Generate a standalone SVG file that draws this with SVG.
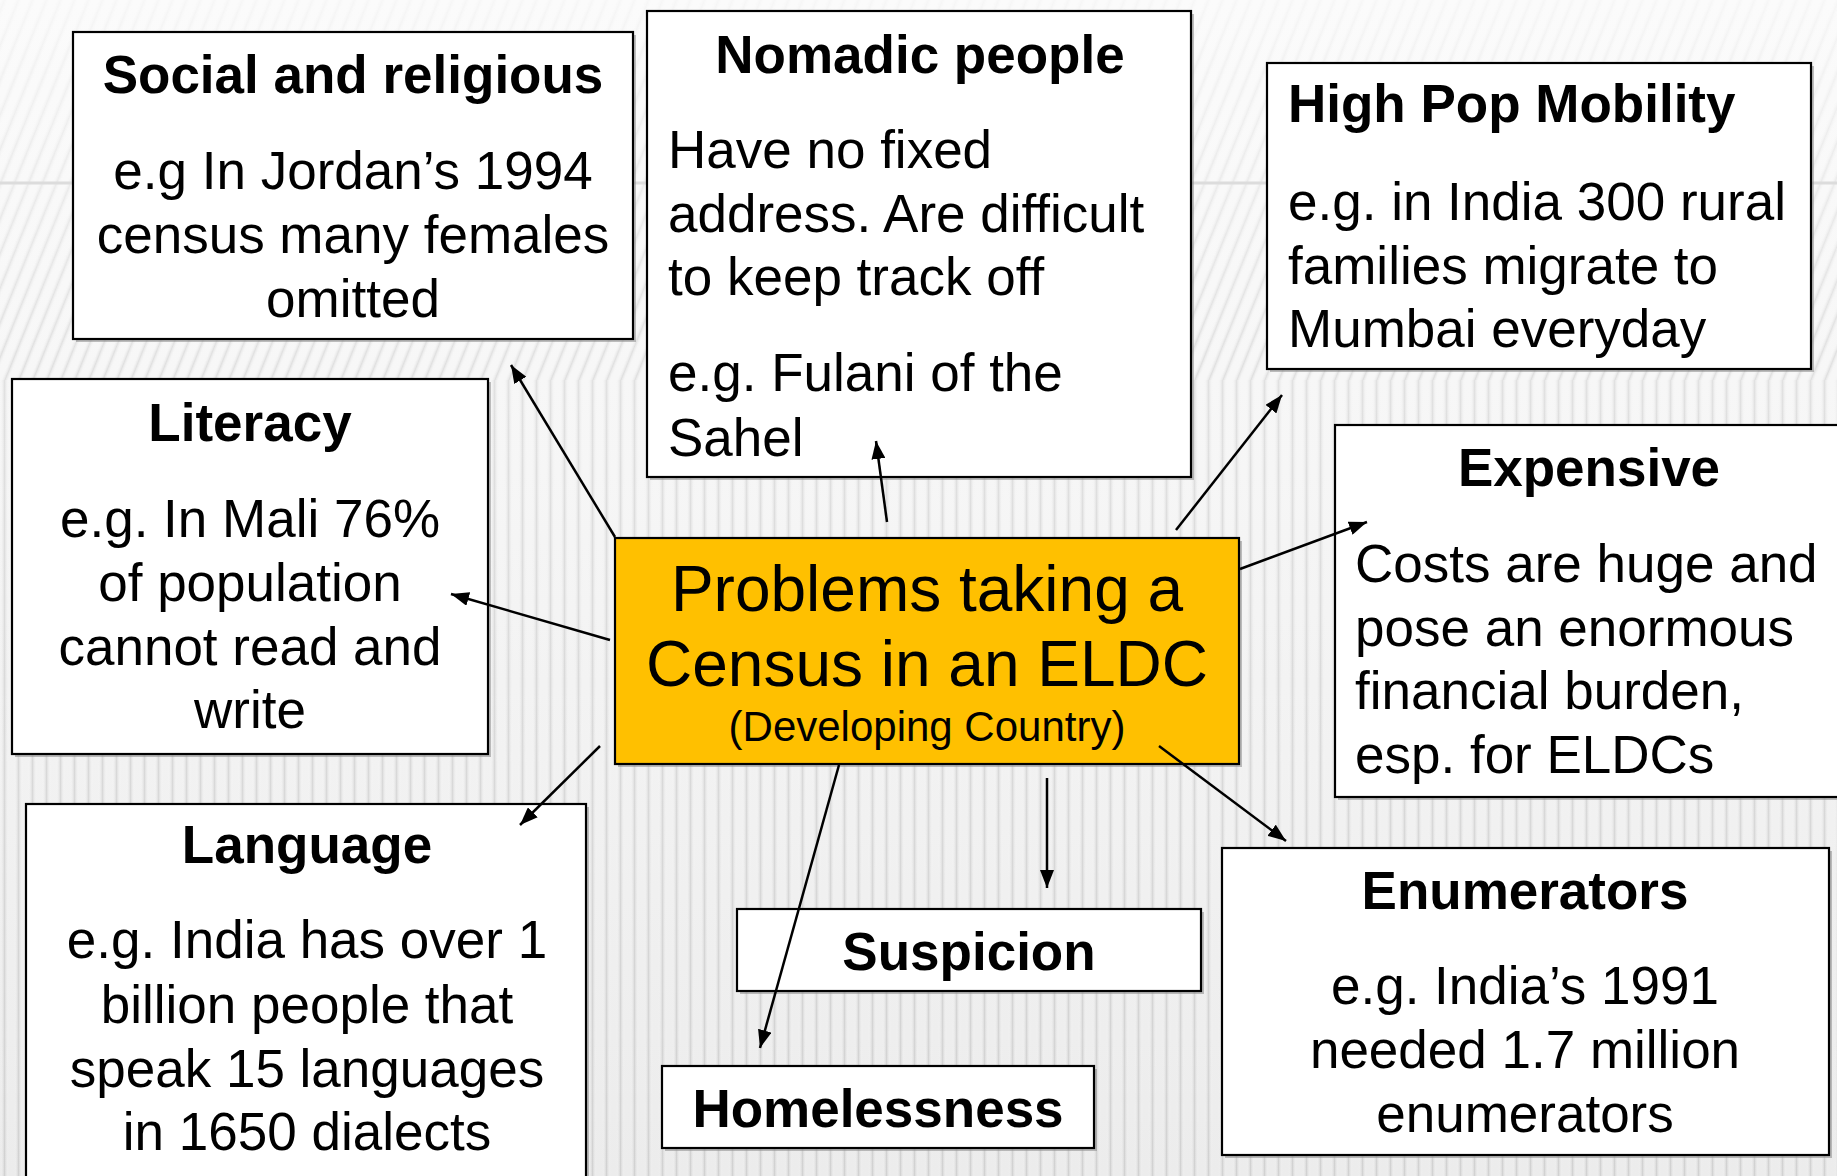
<svg xmlns="http://www.w3.org/2000/svg" width="1837" height="1176" viewBox="0 0 1837 1176">
  <defs>
    <style>
      .box { fill: #ffffff; stroke: #000000; stroke-width: 2.2; }
      .shadow { fill: #8a8a8a; opacity: 0.55; }
      .hub { fill: #ffc000; stroke: #000000; stroke-width: 2.2; }
      text { font-family: "Liberation Sans", Arial, sans-serif; fill: #000000; }
      .title { font-size: 53px; font-weight: bold; }
      .body { font-size: 53px; }
      .mid { text-anchor: middle; }
      .hubtxt { font-size: 64px; text-anchor: middle; }
      .hubsub { font-size: 42px; text-anchor: middle; }
      .link { stroke: #000000; stroke-width: 2.5; fill: none; marker-end: url(#arrow); }
    </style>
    <marker id="arrow" markerUnits="userSpaceOnUse" markerWidth="20" markerHeight="14" refX="18" refY="7" orient="auto">
      <path d="M0,0 L18,7 L0,14 z" fill="#000000"/>
    </marker>
    <linearGradient id="bgFade" x1="0" y1="0" x2="0" y2="1">
      <stop offset="0" stop-color="#fbfbfb"/>
      <stop offset="0.4" stop-color="#f6f6f6"/>
      <stop offset="1" stop-color="#ececec"/>
    </linearGradient>
    <linearGradient id="stripeShade" x1="0" y1="0" x2="1" y2="0">
      <stop offset="0" stop-color="#ffffff" stop-opacity="0"/>
      <stop offset="0.5" stop-color="#cfcfcf" stop-opacity="1"/>
      <stop offset="1" stop-color="#ffffff" stop-opacity="0"/>
    </linearGradient>
    <pattern id="stripes" width="14" height="40" patternUnits="userSpaceOnUse">
      <rect x="0" y="0" width="9" height="40" fill="url(#stripeShade)"/>
    </pattern>
    <pattern id="slant" width="14" height="40" patternUnits="userSpaceOnUse" patternTransform="skewX(-22)">
      <rect x="0" y="0" width="9" height="40" fill="url(#stripeShade)"/>
    </pattern>
    <linearGradient id="stripeMask" x1="0" y1="0" x2="0" y2="1">
      <stop offset="0" stop-color="#ffffff" stop-opacity="0.15"/>
      <stop offset="0.3" stop-color="#ffffff" stop-opacity="0.55"/>
      <stop offset="1" stop-color="#ffffff" stop-opacity="0.9"/>
    </linearGradient>
    <linearGradient id="slantMask" x1="0" y1="0" x2="0" y2="1">
      <stop offset="0" stop-color="#ffffff" stop-opacity="0.1"/>
      <stop offset="1" stop-color="#ffffff" stop-opacity="0.6"/>
    </linearGradient>
    <mask id="mStripes">
      <rect x="0" y="0" width="1837" height="1176" fill="url(#stripeMask)"/>
    </mask>
    <mask id="mSlant">
      <rect x="0" y="0" width="1837" height="380" fill="url(#slantMask)"/>
    </mask>
  </defs>

  <!-- backdrop -->
  <g id="background">
    <rect x="0" y="0" width="1837" height="1176" fill="url(#bgFade)"/>
    <rect x="0" y="380" width="1837" height="796" fill="url(#stripes)" mask="url(#mStripes)"/>
    <rect x="0" y="0" width="1837" height="380" fill="url(#slant)" mask="url(#mSlant)"/>
    <line x1="0" y1="183" x2="1837" y2="183" stroke="#dcdcdc" stroke-width="3"/>
  </g>

  <g id="social">
    <rect class="shadow" x="76" y="35" width="560" height="307"/>
    <rect class="box" x="73" y="32" width="560" height="307"/>
    <text class="title mid" x="353" y="93">Social and religious</text>
    <text class="body mid" x="353" y="189">e.g In Jordan’s 1994</text>
    <text class="body mid" x="353" y="253">census many females</text>
    <text class="body mid" x="353" y="317">omitted</text>
  </g>

  <g id="nomadic">
    <rect class="shadow" x="650" y="14" width="544" height="466"/>
    <rect class="box" x="647" y="11" width="544" height="466"/>
    <text class="title mid" x="920" y="73">Nomadic people</text>
    <text class="body" x="668" y="168">Have no fixed</text>
    <text class="body" x="668" y="232">address. Are difficult</text>
    <text class="body" x="668" y="295">to keep track off</text>
    <text class="body" x="668" y="391">e.g. Fulani of the</text>
    <text class="body" x="668" y="456">Sahel</text>
  </g>

  <g id="mobility">
    <rect class="shadow" x="1270" y="66" width="544" height="306"/>
    <rect class="box" x="1267" y="63" width="544" height="306"/>
    <text class="title" x="1288" y="122">High Pop Mobility</text>
    <text class="body" x="1288" y="220">e.g. in India 300 rural</text>
    <text class="body" x="1288" y="284">families migrate to</text>
    <text class="body" x="1288" y="347">Mumbai everyday</text>
  </g>

  <g id="literacy">
    <rect class="shadow" x="15" y="382" width="476" height="375"/>
    <rect class="box" x="12" y="379" width="476" height="375"/>
    <text class="title mid" x="250" y="441">Literacy</text>
    <text class="body mid" x="250" y="537">e.g. In Mali 76%</text>
    <text class="body mid" x="250" y="601">of population</text>
    <text class="body mid" x="250" y="665">cannot read and</text>
    <text class="body mid" x="250" y="728">write</text>
  </g>

  <g id="expensive">
    <rect class="shadow" x="1338" y="428" width="520" height="372"/>
    <rect class="box" x="1335" y="425" width="520" height="372"/>
    <text class="title mid" x="1589" y="486">Expensive</text>
    <text class="body" x="1355" y="582">Costs are huge and</text>
    <text class="body" x="1355" y="646">pose an enormous</text>
    <text class="body" x="1355" y="709">financial burden,</text>
    <text class="body" x="1355" y="773">esp. for ELDCs</text>
  </g>

  <g id="hub">
    <rect class="shadow" x="618" y="541" width="624" height="226"/>
    <rect class="hub" x="615" y="538" width="624" height="226"/>
    <text class="hubtxt" x="927" y="611">Problems taking a</text>
    <text class="hubtxt" x="927" y="686">Census in an ELDC</text>
    <text class="hubsub" x="927" y="741">(Developing Country)</text>
  </g>

  <g id="language">
    <rect class="shadow" x="29" y="807" width="560" height="380"/>
    <rect class="box" x="26" y="804" width="560" height="380"/>
    <text class="title mid" x="307" y="863">Language</text>
    <text class="body mid" x="307" y="958">e.g. India has over 1</text>
    <text class="body mid" x="307" y="1023">billion people that</text>
    <text class="body mid" x="307" y="1087">speak 15 languages</text>
    <text class="body mid" x="307" y="1150">in 1650 dialects</text>
  </g>

  <g id="suspicion">
    <rect class="shadow" x="740" y="912" width="464" height="82"/>
    <rect class="box" x="737" y="909" width="464" height="82"/>
    <text class="title mid" x="969" y="970">Suspicion</text>
  </g>

  <g id="homelessness">
    <rect class="shadow" x="665" y="1069" width="432" height="82"/>
    <rect class="box" x="662" y="1066" width="432" height="82"/>
    <text class="title mid" x="878" y="1127">Homelessness</text>
  </g>

  <g id="enumerators">
    <rect class="shadow" x="1225" y="851" width="607" height="307"/>
    <rect class="box" x="1222" y="848" width="607" height="307"/>
    <text class="title mid" x="1525" y="909">Enumerators</text>
    <text class="body mid" x="1525" y="1004">e.g. India’s 1991</text>
    <text class="body mid" x="1525" y="1068">needed 1.7 million</text>
    <text class="body mid" x="1525" y="1132">enumerators</text>
  </g>

  <!-- connectors from the central box, drawn over the boxes -->
  <g id="connectors">
    <line class="link" x1="615" y1="537" x2="511" y2="365"/>
    <line class="link" x1="887" y1="522" x2="876" y2="441"/>
    <line class="link" x1="1176" y1="530" x2="1282" y2="395"/>
    <line class="link" x1="1240" y1="569" x2="1367" y2="522"/>
    <line class="link" x1="610" y1="640" x2="451" y2="594"/>
    <line class="link" x1="600" y1="746" x2="520" y2="825"/>
    <line class="link" x1="839" y1="765" x2="760" y2="1048"/>
    <line class="link" x1="1047" y1="778" x2="1047" y2="888"/>
    <line class="link" x1="1159" y1="746" x2="1286" y2="841"/>
  </g>
</svg>
